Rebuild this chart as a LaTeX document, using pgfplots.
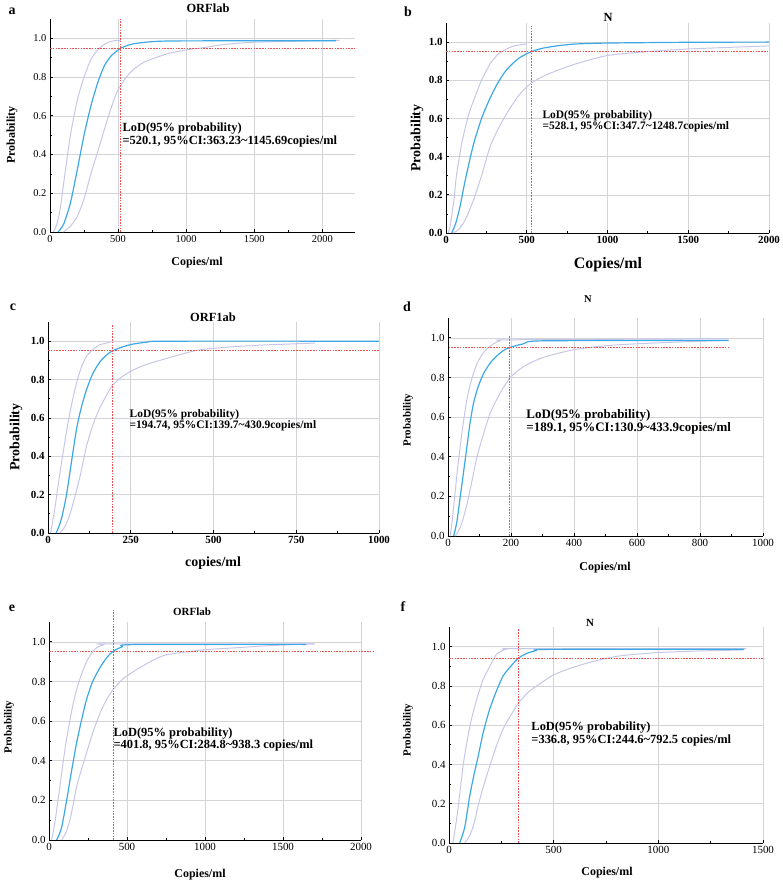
\documentclass[border=0pt]{standalone}
\usepackage{pgfplots}
\pgfplotsset{compat=1.18}
\usepackage{fontspec}
\setmainfont{Liberation Serif}

\definecolor{fitblue}{RGB}{60,168,228}
\definecolor{cilav}{RGB}{198,198,232}
\definecolor{lodred}{RGB}{236,80,80}
\definecolor{gridgray}{RGB}{212,212,216}

\pgfplotsset{
  lod/.style={
    scale only axis, clip=false,
    axis lines=left, axis line style={-, line width=1pt},
    tick align=inside, major tick length=3.5pt, minor tick length=2pt,
    tick style={black, line width=0.8pt},
    xmin=0, ymin=0, ymax=1.1,
    ytick={0,0.2,0.4,0.6,0.8,1.0},
    minor x tick num=1, minor y tick num=1,
    grid=major, major grid style={gridgray, line width=0.6pt},
    /pgf/number format/assume math mode=true,
    y tick label style={/pgf/number format/.cd, fixed, fixed zerofill, precision=1},
    x tick label style={/pgf/number format/.cd, fixed, 1000 sep={}},
    tick label style={font=\fontsize{10.5}{12}\selectfont},
  },
  fit/.style={fitblue, line width=1.2pt, smooth, tension=0.4},
  ci/.style={cilav, line width=1pt, smooth, tension=0.4},
  lodline/.style={lodred, dash pattern=on 1.6pt off 1.2pt, line width=0.7pt},
}

\newcommand{\note}[1]{\fontsize{#1}{#1}\selectfont\bfseries}

\begin{document}
\begin{tikzpicture}
\useasboundingbox (0,0) rectangle (783bp,-883bp);

% ---------------- a ----------------
\begin{axis}[lod, at={(50bp,-232bp)}, anchor=south west,
  width=305bp, height=213bp, xmax=2240, xtick={0,500,1000,1500,2000}]
  \addplot[ci] coordinates {(25,0) (50,0.04) (75,0.12) (100,0.25) (150,0.5) (200,0.68)
    (250,0.8) (300,0.89) (350,0.94) (400,0.97) (450,0.985) (500,0.99) (520,0.99)};
  \addplot[ci] coordinates {(98,0) (150,0.03) (200,0.08) (250,0.17) (300,0.3) (370,0.46)
    (430,0.6) (490,0.72) (550,0.79) (614,0.84) (700,0.88) (860,0.92) (1000,0.94)
    (1106,0.95) (1300,0.97) (1500,0.98) (1800,0.985) (2125,0.99)};
  \addplot[fit] coordinates {(59,0) (100,0.04) (150,0.15) (200,0.32) (250,0.5) (300,0.65)
    (350,0.77) (400,0.86) (450,0.91) (500,0.94) (520,0.95) (600,0.97) (700,0.98)
    (800,0.985) (1000,0.987) (2100,0.988)};
  \addplot[lodline] coordinates {(520,0) (520,1.1)};
  \addplot[lodline] coordinates {(0,0.948) (2240,0.948)};
  \node[anchor=west, align=left, font=\note{12.5}] at (axis cs:507,0.5)
    {LoD(95\% probability)\\=520.1, 95\%CI:363.23\textasciitilde1145.69copies/ml};
\end{axis}
\node[font=\note{14}] at (12bp,-11bp) {a};
\node[font=\note{12.5}] at (208bp,-8bp) {ORFlab};
\node[font=\note{12}, rotate=90] at (12bp,-135bp) {Probability};
\node[font=\note{12}] at (197bp,-263bp) {Copies/ml};

% ---------------- b ----------------
\begin{axis}[lod, at={(446bp,-233bp)}, anchor=south west,
  width=323bp, height=210bp, xmax=2000, xtick={0,500,1000,1500,2000},
  tick label style={font=\fontsize{11}{13}\selectfont\bfseries}]
  \addplot[ci] coordinates {(15,0) (30,0.06) (50,0.18) (66,0.31) (100,0.48) (140,0.62)
    (169,0.69) (220,0.8) (272,0.885) (320,0.935) (355,0.955) (420,0.98) (500,0.99)};
  \addplot[ci] coordinates {(45,0) (80,0.02) (120,0.07) (169,0.17) (220,0.3) (272,0.45)
    (320,0.54) (375,0.625) (450,0.72) (520,0.78) (600,0.82) (684,0.85) (800,0.885)
    (1000,0.93) (1250,0.95) (1500,0.964) (2000,0.98)};
  \addplot[fit] coordinates {(35,0) (60,0.05) (87,0.14) (120,0.28) (169,0.46) (220,0.6)
    (272,0.705) (320,0.785) (375,0.855) (450,0.915) (528,0.95) (600,0.968) (684,0.98)
    (800,0.99) (1000,0.995) (1500,0.999) (2000,1.0)};
  \addplot[lodline] coordinates {(531,0) (531,1.085)};
  \addplot[lodline] coordinates {(0,0.95) (2000,0.95)};
  \node[anchor=west, align=left, font=\note{11.5}] at (axis cs:576,0.586)
    {LoD(95\% probability)\\=528.1, 95\%CI:347.7\textasciitilde1248.7copies/ml};
\end{axis}
\node[font=\note{14}] at (408bp,-12bp) {b};
\node[font=\note{12.5}] at (608bp,-17bp) {N};
\node[font=\note{14}, rotate=90] at (417bp,-138bp) {Probability};
\node[font=\note{16}] at (608bp,-265bp) {Copies/ml};

% ---------------- c ----------------
\begin{axis}[lod, at={(48bp,-533bp)}, anchor=south west,
  width=331bp, height=211bp, xmax=1000, xtick={0,250,500,750,1000},
  tick label style={font=\fontsize{11}{13}\selectfont\bfseries}]
  \addplot[ci] coordinates {(8,0) (20,0.12) (35,0.3) (55,0.52) (70,0.66) (86,0.78)
    (100,0.86) (116,0.92) (136,0.957) (155,0.98) (176,0.99) (188,0.995)};
  \addplot[ci] coordinates {(35,0) (50,0.03) (65,0.09) (86,0.22) (100,0.32) (116,0.45)
    (135,0.56) (156,0.65) (191,0.76) (220,0.81) (257,0.85) (300,0.88) (358,0.91)
    (420,0.94) (458,0.955) (550,0.97) (650,0.98) (806,0.99)};
  \addplot[fit] coordinates {(25,0) (40,0.07) (55,0.19) (70,0.36) (86,0.54) (100,0.65)
    (116,0.745) (135,0.83) (156,0.89) (175,0.925) (195,0.95) (225,0.97) (257,0.985)
    (300,0.995) (358,1.0) (1000,1.0)};
  \addplot[lodline] coordinates {(193,0) (193,1.083)};
  \addplot[lodline] coordinates {(0,0.95) (1000,0.95)};
  \node[anchor=west, align=left, font=\note{11.5}] at (axis cs:236,0.588)
    {LoD(95\% probability)\\=194.74, 95\%CI:139.7\textasciitilde430.9copies/ml};
\end{axis}
\node[font=\note{14}] at (13bp,-307bp) {c};
\node[font=\note{12.5}] at (213bp,-317bp) {ORF1ab};
\node[font=\note{14}, rotate=90] at (16bp,-437bp) {Probability};
\node[font=\note{14}] at (213bp,-563bp) {copies/ml};

% ---------------- d ----------------
\begin{axis}[lod, at={(448bp,-536bp)}, anchor=south west,
  width=315bp, height=218bp, xmax=1000, xtick={0,200,400,600,800,1000},
  tick label style={font=\fontsize{11}{13}\selectfont}]
  \addplot[ci] coordinates {(7,0) (15,0.1) (29,0.32) (45,0.53) (60,0.69) (75,0.79)
    (92,0.87) (108,0.915) (124,0.945) (145,0.97) (166,0.985) (200,0.99) (890,0.995)};
  \addplot[ci] coordinates {(23,0) (35,0.03) (45,0.07) (60,0.16) (75,0.27) (92,0.4)
    (110,0.5) (134,0.62) (165,0.72) (198,0.8) (240,0.855) (300,0.9) (399,0.94)
    (500,0.96) (600,0.97) (750,0.98) (891,0.988)};
  \addplot[fit] coordinates {(18,0) (28,0.07) (39,0.2) (50,0.33) (60,0.45) (70,0.57)
    (81,0.67) (95,0.75) (113,0.82) (135,0.875) (156,0.91) (175,0.935) (193,0.95)
    (240,0.97) (304,0.985) (891,0.986)};
  \addplot[lodline] coordinates {(194,0) (194,1.01)};
  \addplot[lodline] coordinates {(2,0.95) (891,0.95)};
  \node[anchor=west, align=left, font=\note{13}] at (axis cs:238,0.576)
    {LoD(95\% probability)\\=189.1, 95\%CI:130.9\textasciitilde433.9copies/ml};
\end{axis}
\node[font=\note{14}] at (407bp,-307bp) {d};
\node[font=\note{10.5}] at (588bp,-299bp) {N};
\node[font=\note{11}, rotate=90] at (408bp,-420bp) {Probability};
\node[font=\note{12}] at (605bp,-568bp) {Copies/ml};

% ---------------- e ----------------
\begin{axis}[lod, at={(49bp,-840bp)}, anchor=south west,
  width=312bp, height=218bp, xmax=2000, xtick={0,500,1000,1500,2000},
  tick label style={font=\fontsize{11}{13}\selectfont}]
  \addplot[ci] coordinates {(17,0) (40,0.1) (70,0.27) (90,0.39) (113,0.51) (145,0.65)
    (177,0.76) (210,0.84) (241,0.9) (275,0.945) (305,0.97) (350,0.985) (391,0.99)
    (1700,0.99)};
  \addplot[ci] coordinates {(81,0) (110,0.04) (140,0.12) (177,0.27) (210,0.36) (241,0.44)
    (280,0.54) (327,0.64) (370,0.71) (412,0.76) (470,0.81) (541,0.85) (650,0.9)
    (754,0.935) (1000,0.96) (1200,0.97) (1395,0.98) (1705,0.99)};
  \addplot[fit] coordinates {(49,0) (80,0.06) (113,0.2) (145,0.35) (177,0.49) (210,0.61)
    (241,0.71) (280,0.8) (327,0.87) (370,0.92) (412,0.953) (470,0.975) (541,0.986)
    (1650,0.987)};
  \addplot[lodline] coordinates {(412,0) (412,1.16)};
  \addplot[lodline] coordinates {(0,0.953) (2080,0.953)};
  \node[anchor=west, align=left, font=\note{12.5}] at (axis cs:391,0.508)
    {LoD(95\% probability)\\=401.8, 95\%CI:284.8\textasciitilde938.3 copies/ml};
\end{axis}
\node[font=\note{14}] at (12bp,-608bp) {e};
\node[font=\note{11}] at (192bp,-612bp) {ORFlab};
\node[font=\note{11}, rotate=90] at (9bp,-727bp) {Probability};
\node[font=\note{12}] at (200bp,-875bp) {Copies/ml};

% ---------------- f ----------------
\begin{axis}[lod, at={(449bp,-843bp)}, anchor=south west,
  width=314bp, height=216bp, xmax=1500, xtick={0,500,1000,1500},
  tick label style={font=\fontsize{11}{13}\selectfont}]
  \addplot[ci] coordinates {(19,0) (40,0.15) (67,0.39) (85,0.51) (107,0.63) (135,0.74)
    (162,0.83) (195,0.9) (226,0.96) (250,0.977) (274,0.987) (330,0.99) (1420,0.99)};
  \addplot[ci] coordinates {(75,0) (100,0.04) (120,0.1) (139,0.19) (165,0.29) (194,0.39)
    (225,0.49) (258,0.58) (295,0.65) (330,0.71) (380,0.77) (433,0.81) (497,0.855)
    (580,0.89) (672,0.92) (750,0.94) (831,0.955) (1000,0.97) (1200,0.978) (1404,0.983)};
  \addplot[fit] coordinates {(51,0) (75,0.08) (99,0.24) (120,0.35) (139,0.44) (165,0.57)
    (194,0.68) (225,0.77) (258,0.85) (295,0.9) (330,0.94) (370,0.965) (417,0.98)
    (481,0.986) (1410,0.987)};
  \addplot[lodline] coordinates {(333,0) (333,1.093)};
  \addplot[lodline] coordinates {(0,0.94) (1500,0.94)};
  \node[anchor=west, align=left, font=\note{12.5}] at (axis cs:377,0.556)
    {LoD(95\% probability)\\=336.8, 95\%CI:244.6\textasciitilde792.5 copies/ml};
\end{axis}
\node[font=\note{14}] at (403bp,-607bp) {f};
\node[font=\note{11}] at (590bp,-623bp) {N};
\node[font=\note{11}, rotate=90] at (408bp,-730bp) {Probability};
\node[font=\note{12}] at (607bp,-873bp) {Copies/ml};
\end{tikzpicture}
\end{document}
